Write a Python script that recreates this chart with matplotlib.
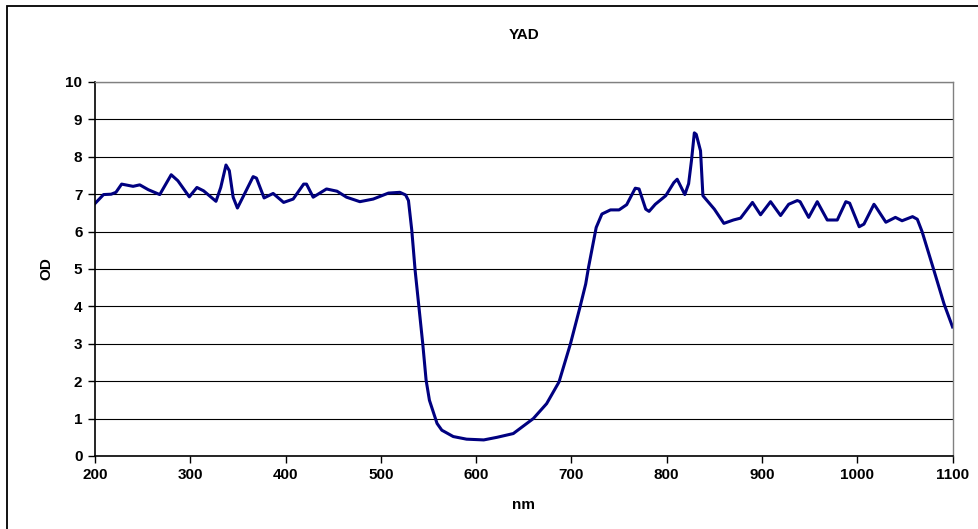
import matplotlib.pyplot as plt
from matplotlib.patches import Rectangle

# OD spectrum
nm = [200, 209, 217, 222, 228, 240, 247, 256, 268, 280, 287, 299, 307, 314,
      327, 332, 337.5, 341, 345, 349.5, 356, 366, 369.5, 377.5, 387, 398, 408,
      419, 422, 429, 443, 454, 464, 478, 492, 508, 520, 526, 529, 532.5, 536,
      540, 544, 547.5, 551, 559, 564, 576, 590, 608, 622, 639, 660, 674, 687,
      699, 709, 715, 718, 722, 726, 732, 741, 750, 758, 767, 771, 778, 781.5,
      788, 799, 807.5, 811, 819, 823, 826, 829, 831, 835.5, 838, 850, 860, 870,
      877.5, 890, 898.5, 909, 919.5, 928, 937, 940, 949, 958, 968.5, 979, 988,
      992, 1002, 1007, 1017.5, 1019, 1030, 1040, 1047, 1058, 1063, 1068, 1080,
      1091, 1100]
od = [6.75, 6.99, 7.0, 7.05, 7.27, 7.21, 7.25, 7.12, 6.99, 7.52, 7.36, 6.93,
      7.18, 7.09, 6.81, 7.18, 7.78, 7.63, 6.92, 6.63, 6.96, 7.47, 7.43, 6.9,
      7.02, 6.78, 6.87, 7.27, 7.27, 6.92, 7.14, 7.08, 6.92, 6.8, 6.87, 7.03,
      7.05, 6.98, 6.83, 6.03, 4.96, 3.98, 3.0, 2.03, 1.49, 0.87, 0.69, 0.52,
      0.45, 0.43, 0.5, 0.6, 1.0, 1.4, 1.98, 3.0, 3.98, 4.6, 5.05, 5.58, 6.11,
      6.47, 6.58, 6.58, 6.72, 7.16, 7.14, 6.6, 6.54, 6.73, 6.96, 7.31, 7.4,
      6.99, 7.28, 7.9, 8.64, 8.6, 8.16, 6.96, 6.6, 6.22, 6.31, 6.36, 6.78,
      6.45, 6.8, 6.43, 6.73, 6.83, 6.8, 6.38, 6.8, 6.31, 6.31, 6.8, 6.76,
      6.13, 6.2, 6.73, 6.68, 6.25, 6.38, 6.29, 6.4, 6.33, 6.0, 5.0, 4.07, 3.45]

xticks = [200, 300, 400, 500, 600, 700, 800, 900, 1000, 1100]
yticks = list(range(0, 11))

plt.rcParams['font.family'] = ['Liberation Sans', 'DejaVu Sans']
plt.rcParams['font.weight'] = 'bold'

fig = plt.figure(figsize=(9.79, 5.29), dpi=100)
ax = fig.add_axes([0.097, 0.138, 0.876, 0.707])

# outer chart frame
fig.patches.append(Rectangle((7 / 979, -0.05), 1.1, 1.05 - 6 / 529,
                             transform=fig.transFigure, fill=False,
                             edgecolor='black', linewidth=1.3))

ax.plot(nm, od, color='#000080', linewidth=2.2, solid_joinstyle='round')

ax.set_xlim(200, 1100)
ax.set_ylim(0, 10)
ax.set_xticks(xticks)
ax.set_yticks(yticks)
ax.yaxis.grid(True, color='black', linewidth=0.8)
ax.set_axisbelow(True)

for side in ['top', 'right']:
    ax.spines[side].set_color('#808080')
    ax.spines[side].set_linewidth(1.0)
for side in ['left', 'bottom']:
    ax.spines[side].set_color('black')
    ax.spines[side].set_linewidth(1.2)

ax.tick_params(direction='out', length=5, width=1, labelsize=11, pad=4)

ax.set_title('YAD', fontsize=11, fontweight='bold', pad=31)
ax.set_xlabel('nm', fontsize=11, fontweight='bold', labelpad=11)
ax.set_ylabel('OD', fontsize=11, fontweight='bold', labelpad=9)

fig.savefig('out.png', dpi=100)
